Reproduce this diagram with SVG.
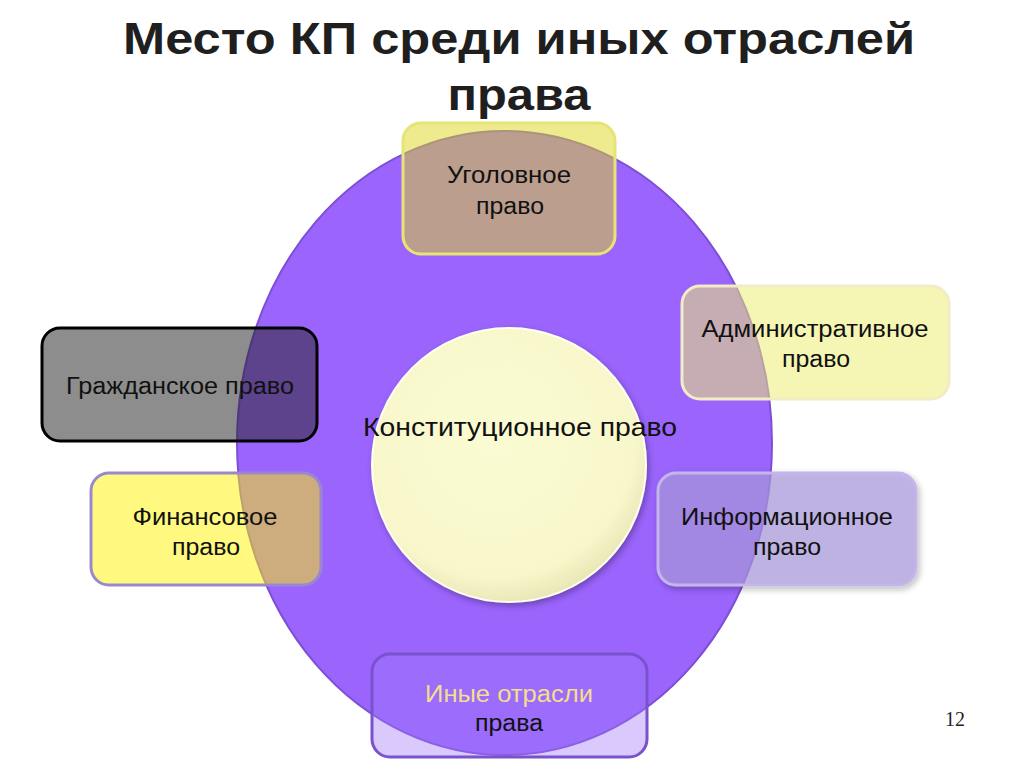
<svg xmlns="http://www.w3.org/2000/svg" width="1024" height="767" viewBox="0 0 1024 767">
  <defs>
    <style>
      .title { font-family: "Liberation Sans", Arial, sans-serif; font-weight: bold; font-size: 44px; fill: #1f1f1f; text-anchor: middle; }
      .lbl { font-family: "Liberation Sans", Arial, sans-serif; font-size: 23px; fill: #111; text-anchor: middle; }
      .box { stroke-width: 3; }
    </style>
    <radialGradient id="kpGrad" cx="0.45" cy="0.4" r="0.6">
      <stop offset="0" stop-color="#fbfbd3"/>
      <stop offset="0.85" stop-color="#f8f7cb"/>
      <stop offset="1" stop-color="#ebe8b8"/>
    </radialGradient>
    <filter id="sh" x="-10%" y="-10%" width="130%" height="130%">
      <feGaussianBlur in="SourceAlpha" stdDeviation="3"/>
      <feOffset dx="2" dy="3"/>
      <feComponentTransfer><feFuncA type="linear" slope="0.3"/></feComponentTransfer>
      <feMerge><feMergeNode/><feMergeNode in="SourceGraphic"/></feMerge>
    </filter>
  </defs>
  <rect width="1024" height="767" fill="#ffffff"/>

  <g id="title">
    <text class="title" x="519" y="54" textLength="792" lengthAdjust="spacingAndGlyphs">Место КП среди иных отраслей</text>
    <text class="title" x="519" y="110" textLength="143" lengthAdjust="spacingAndGlyphs">права</text>
  </g>

  <g id="outer-ellipse">
    <ellipse cx="504.5" cy="443" rx="267.5" ry="312" fill="#9a64fd" stroke="#7d4fd6" stroke-width="2"/>
  </g>

  <g id="kp">
    <circle cx="509" cy="465" r="137" fill="url(#kpGrad)" stroke="#fffff0" stroke-width="2" filter="url(#sh)"/>
  </g>

  <g id="ugolovnoe">
    <rect class="box" x="403" y="123" width="212" height="131" rx="18" fill="#dcd71e" fill-opacity="0.5" stroke="#e6e474"/>
    <text class="lbl" x="509" y="183" textLength="124" lengthAdjust="spacingAndGlyphs">Уголовное</text>
    <text class="lbl" x="510" y="214" textLength="68" lengthAdjust="spacingAndGlyphs">право</text>
  </g>

  <g id="administrativnoe">
    <rect class="box" x="682" y="286" width="267" height="113" rx="18" fill="#eeee71" fill-opacity="0.53" stroke="#f2ecc4"/>
    <text class="lbl" x="815" y="337" textLength="227" lengthAdjust="spacingAndGlyphs">Административное</text>
    <text class="lbl" x="816" y="367" textLength="68" lengthAdjust="spacingAndGlyphs">право</text>
  </g>

  <g id="grazhdanskoe">
    <rect class="box" x="42" y="328" width="275" height="113" rx="18" fill="#242424" fill-opacity="0.52" stroke="#000000"/>
    <text class="lbl" x="180" y="394" textLength="228" lengthAdjust="spacingAndGlyphs">Гражданское право</text>
  </g>

  <g id="finansovoe">
    <rect class="box" x="91" y="473" width="230" height="112" rx="18" fill="#fff500" fill-opacity="0.5" stroke="#9a88cf"/>
    <text class="lbl" x="205" y="525" textLength="145" lengthAdjust="spacingAndGlyphs">Финансовое</text>
    <text class="lbl" x="206" y="555" textLength="68" lengthAdjust="spacingAndGlyphs">право</text>
  </g>

  <g id="informatsionnoe">
    <rect class="box" x="658" y="473" width="258" height="112" rx="18" fill="#ab9ce0" fill-opacity="0.66" stroke="#c4b6ec" filter="url(#sh)"/>
    <text class="lbl" x="787" y="525" textLength="212" lengthAdjust="spacingAndGlyphs">Информационное</text>
    <text class="lbl" x="787" y="555" textLength="68" lengthAdjust="spacingAndGlyphs">право</text>
  </g>

  <g id="inye">
    <rect class="box" x="372" y="654" width="275" height="103" rx="18" fill="#a078fa" fill-opacity="0.4" stroke="#7a52cc"/>
    <text class="lbl" x="509" y="702" style="fill:#f3df8a" textLength="168" lengthAdjust="spacingAndGlyphs">Иные отрасли</text>
    <text class="lbl" x="509" y="731" textLength="68" lengthAdjust="spacingAndGlyphs">права</text>
  </g>

  <g id="kp-label">
    <text class="lbl" x="520" y="436" style="font-size:25px" textLength="314" lengthAdjust="spacingAndGlyphs">Конституционное право</text>
  </g>

  <g id="page-number">
    <text x="955" y="726" font-family="Liberation Serif, serif" font-size="20" fill="#222" text-anchor="middle">12</text>
  </g>
</svg>
